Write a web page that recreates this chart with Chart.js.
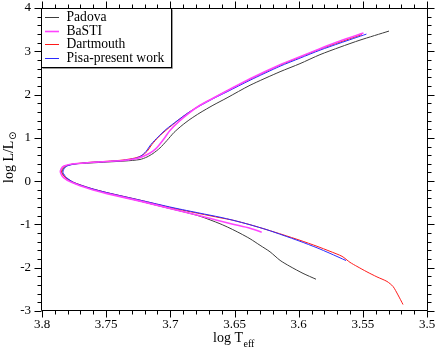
<!DOCTYPE html>
<html><head><meta charset="utf-8">
<script src="https://cdn.jsdelivr.net/npm/chart.js@4.4.0/dist/chart.umd.min.js"></script>
<style>html,body{margin:0;padding:0;background:#fff}#wrap{width:436px;height:350px;position:relative}</style>
</head><body><div id="wrap"><canvas id="c" width="436" height="350"></canvas></div>
<script>
const seriesNames = ['Padova', 'BaSTI', 'Dartmouth', 'Pisa-present work'];

const padovaLogT = [3.5865,3.5966,3.6068,3.6145,3.6223,3.6301,3.6379,3.6457,3.6535,3.6613,3.6769,3.6901,3.7081,3.7236,3.7494,3.7626,3.7751,3.7817,3.7844,3.7836,3.7813,3.7751,3.7626,3.7494,3.7353,3.7236,3.7182,3.7135,3.7081,3.7026,3.6971,3.6909,3.6847,3.6769,3.6668,3.6558,3.6379,3.6145,3.5990,3.5834,3.5678,3.5522,3.5296];
const padovaLogL = [-2.266,-2.131,-1.969,-1.830,-1.633,-1.482,-1.331,-1.204,-1.088,-0.984,-0.810,-0.706,-0.578,-0.462,-0.277,-0.172,-0.045,0.083,0.198,0.280,0.349,0.396,0.419,0.442,0.465,0.500,0.558,0.639,0.766,0.940,1.126,1.288,1.427,1.578,1.752,1.925,2.215,2.528,2.714,2.922,3.096,3.258,3.467];

const bastiLogT = [3.6288,3.6379,3.6512,3.6636,3.6769,3.6979,3.7236,3.7494,3.7626,3.7766,3.7832,3.7856,3.7852,3.7829,3.7766,3.7626,3.7494,3.7369,3.7260,3.7205,3.7158,3.7119,3.7081,3.7042,3.7003,3.6932,3.6847,3.6769,3.6668,3.6558,3.6379,3.6145,3.5990,3.5834,3.5678,3.5495];
const bastiLogL = [-1.181,-1.088,-0.995,-0.903,-0.798,-0.648,-0.462,-0.288,-0.184,-0.033,0.083,0.198,0.280,0.349,0.396,0.430,0.453,0.477,0.523,0.581,0.650,0.732,0.859,1.010,1.172,1.381,1.589,1.752,1.914,2.088,2.366,2.690,2.876,3.061,3.235,3.420];

const dartLogT = [3.5187,3.5226,3.5265,3.5312,3.5390,3.5468,3.5546,3.5600,3.5662,3.5756,3.5857,3.5990,3.6122,3.6247,3.6379,3.6512,3.6613,3.6769,3.6979,3.7236,3.7494,3.7626,3.7758,3.7821,3.7848,3.7844,3.7821,3.7758,3.7626,3.7494,3.7369,3.7275,3.7221,3.7182,3.7143,3.7088,3.7026,3.6940,3.6855,3.6769,3.6668,3.6558,3.6379,3.6145,3.5990,3.5834,3.5678,3.5507];
const dartLogL = [-2.850,-2.629,-2.432,-2.317,-2.212,-2.096,-1.969,-1.876,-1.737,-1.621,-1.505,-1.366,-1.239,-1.123,-1.007,-0.903,-0.845,-0.752,-0.624,-0.439,-0.265,-0.161,-0.022,0.094,0.198,0.280,0.349,0.396,0.435,0.458,0.488,0.535,0.593,0.685,0.848,1.033,1.195,1.404,1.589,1.752,1.914,2.088,2.354,2.679,2.864,3.050,3.212,3.386];

const pisaLogT = [3.5631,3.5756,3.5857,3.5990,3.6122,3.6247,3.6379,3.6512,3.6613,3.6769,3.6979,3.7236,3.7494,3.7626,3.7751,3.7809,3.7836,3.7829,3.7805,3.7743,3.7626,3.7494,3.7369,3.7275,3.7229,3.7190,3.7151,3.7096,3.7034,3.6948,3.6862,3.6769,3.6668,3.6558,3.6379,3.6145,3.5990,3.5834,3.5678,3.5472];
const pisaLogL = [-1.834,-1.668,-1.540,-1.389,-1.250,-1.123,-1.007,-0.903,-0.833,-0.740,-0.613,-0.439,-0.265,-0.161,-0.033,0.083,0.198,0.280,0.349,0.396,0.430,0.453,0.477,0.523,0.581,0.685,0.848,1.021,1.195,1.392,1.578,1.740,1.902,2.064,2.331,2.655,2.841,3.026,3.189,3.397];

const xTickValues = [3.5, 3.55, 3.6, 3.65, 3.7, 3.75, 3.8];
const xTickLabels = ['3.5', '3.55', '3.6', '3.65', '3.7', '3.75', '3.8'];
const yTickValues = [-3, -2, -1, 0, 1, 2, 3, 4];
const yTickLabels = ['-3', '-2', '-1', '0', '1', '2', '3', '4'];
const xMinorStep = 0.01;
const yMinorStep = 0.2;

const SERIF = "'Liberation Serif', 'Times New Roman', serif";
const zip = (xs, ys) => xs.map((x, i) => ({ x: x, y: ys[i] }));

const colors = ['#3c3c3c', '#ff44ff', '#ff1a1a', '#2a2aff'];
const widths = [1, 1.6, 1, 1];
const logTs = [padovaLogT, bastiLogT, dartLogT, pisaLogT];
const logLs = [padovaLogL, bastiLogL, dartLogL, pisaLogL];
const drawOrder = [3, 0, 2, 1]; // lower drawn on top

const datasets = seriesNames.map((name, i) => ({
  label: name,
  data: zip(logTs[i], logLs[i]),
  borderColor: colors[i],
  backgroundColor: colors[i],
  borderWidth: widths[i],
  pointRadius: 0,
  tension: 0.25,
  fill: false,
  order: drawOrder[i]
}));

const framePlugin = {
  id: 'frameTicks',
  afterDatasetsDraw(chart) {
    const ctx = chart.ctx;
    const a = chart.chartArea;
    const xs = chart.scales.x, ys = chart.scales.y;
    const L = Math.round(a.left) - 0.5, R = Math.round(a.right) + 0.5;
    const T = Math.round(a.top) + 0.5, B = Math.round(a.bottom) - 0.5;
    ctx.save();
    ctx.strokeStyle = '#000';
    ctx.lineWidth = 1;
    ctx.beginPath();
    ctx.rect(L, T, R - L, B - T);
    const nx = Math.round((xs.max - xs.min) / xMinorStep);
    for (let i = 0; i <= nx; i++) {
      const v = xs.min + i * xMinorStep;
      const major = xTickValues.some(t => Math.abs(t - v) < 1e-6);
      const len = major ? 7 : 4;
      const px = Math.round(xs.getPixelForValue(v)) + 0.5;
      ctx.moveTo(px, B); ctx.lineTo(px, B + len);
      ctx.moveTo(px, T); ctx.lineTo(px, T - len);
    }
    const ny = Math.round((ys.max - ys.min) / yMinorStep);
    for (let i = 0; i <= ny; i++) {
      const v = ys.min + i * yMinorStep;
      const major = yTickValues.some(t => Math.abs(t - v) < 1e-6);
      const len = major ? 7 : 4;
      const py = Math.round(ys.getPixelForValue(v)) + 0.5;
      ctx.moveTo(L, py); ctx.lineTo(L - len, py);
      ctx.moveTo(R, py); ctx.lineTo(R + len, py);
    }
    ctx.stroke();

    // legend box
    const bx = L, by = T, bw = 130, bh = 59;
    ctx.fillStyle = '#fff';
    ctx.fillRect(bx, by, bw, bh);
    ctx.strokeStyle = '#9a9a9a';
    ctx.beginPath();
    ctx.moveTo(bx + bw + 1, by + 1); ctx.lineTo(bx + bw + 1, by + bh + 1); ctx.lineTo(bx + 1, by + bh + 1);
    ctx.stroke();
    ctx.strokeStyle = '#000';
    ctx.strokeRect(bx, by, bw, bh);
    ctx.font = '13.6px ' + SERIF;
    ctx.textBaseline = 'middle';
    ctx.textAlign = 'left';
    seriesNames.forEach((name, i) => {
      const y = by + 8.5 + i * 13.7;
      ctx.strokeStyle = colors[i];
      ctx.lineWidth = widths[i];
      ctx.beginPath();
      ctx.moveTo(bx + 3.5, Math.round(y) + 0.5); ctx.lineTo(bx + 17.5, Math.round(y) + 0.5);
      ctx.stroke();
      ctx.fillStyle = '#000';
      ctx.fillText(name, bx + 25, y + 0.5);
    });

    // axis titles
    ctx.fillStyle = '#000';
    ctx.textBaseline = 'alphabetic';
    ctx.font = '14px ' + SERIF;
    const xt = 'log T';
    ctx.fillText(xt, 213, 342);
    const wx = ctx.measureText(xt).width;
    ctx.font = '10px ' + SERIF;
    ctx.fillText('eff', 213 + wx + 0.5, 346.5);

    ctx.translate(13, 183);
    ctx.rotate(-Math.PI / 2);
    ctx.font = '14px ' + SERIF;
    const yt = 'log L/L';
    ctx.fillText(yt, 0, 0);
    const wy = ctx.measureText(yt).width;
    ctx.font = '10px ' + "'DejaVu Sans', sans-serif";
    ctx.fillText('\u2299', wy + 0.5, 3);
    ctx.restore();
  }
};

new Chart(document.getElementById('c'), {
  type: 'line',
  data: { datasets: datasets },
  options: {
    responsive: false,
    animation: false,
    devicePixelRatio: 1,
    layout: { padding: { left: 0, right: 9, top: 8, bottom: 0 } },
    plugins: { legend: { display: false }, tooltip: { enabled: false } },
    scales: {
      x: {
        type: 'linear', reverse: true, min: 3.5, max: 3.8,
        grid: { display: false, drawTicks: false, tickLength: 0 },
        border: { display: false },
        afterBuildTicks: s => { s.ticks = xTickValues.map(v => ({ value: v })); },
        afterFit: s => { s.height = 39; s.paddingLeft = 0; s.paddingRight = 0; },
        ticks: {
          autoSkip: false, maxRotation: 0, padding: 6, color: '#000',
          font: { family: SERIF, size: 13 },
          callback: v => xTickLabels[xTickValues.indexOf(v)]
        }
      },
      y: {
        type: 'linear', min: -3, max: 4,
        grid: { display: false, drawTicks: false, tickLength: 0 },
        border: { display: false },
        afterBuildTicks: s => { s.ticks = yTickValues.map(v => ({ value: v })); },
        afterFit: s => { s.width = 42; s.paddingTop = 0; s.paddingBottom = 0; },
        ticks: {
          autoSkip: false, padding: 11, color: '#000',
          font: { family: SERIF, size: 13 },
          callback: v => yTickLabels[yTickValues.indexOf(v)]
        }
      }
    }
  },
  plugins: [framePlugin]
});
</script>
</body></html>
